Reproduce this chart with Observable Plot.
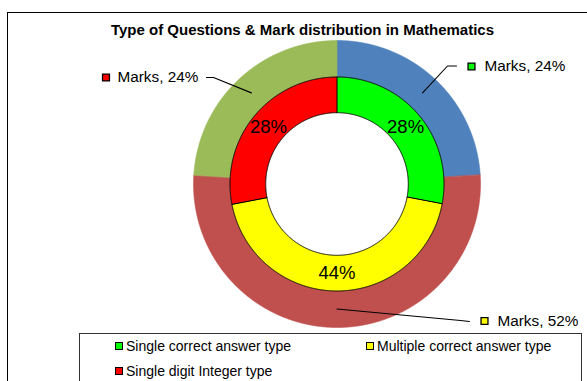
<!DOCTYPE html>
<html>
<head>
<meta charset="utf-8">
<script src="https://cdn.jsdelivr.net/npm/d3@7"></script>
<script src="https://cdn.jsdelivr.net/npm/@observablehq/plot@0.6"></script>
<style>
  html, body { margin: 0; padding: 0; background: #fff; }
  body { font-family: "Liberation Sans", Arial, sans-serif; }
  #wrap { position: relative; width: 587px; height: 381px; overflow: hidden; }
  #frame { position: absolute; left: 7px; top: 12px; width: 600px; height: 420px; border: 1px solid #000; box-sizing: border-box; }
  #title { position: absolute; left: 7px; width: 591px; top: 21px; text-align: center; font-weight: bold; font-size: 15px; line-height: 17px; color: #000; white-space: nowrap; }
  #chart { position: absolute; left: 0; top: 0; }
  #legend { position: absolute; left: 79px; top: 333px; width: 503px; height: 70px; border: 1px solid #333; box-sizing: border-box; background: #fff; }
  .item { position: absolute; display: flex; align-items: center; font-size: 14px; line-height: 16px; white-space: nowrap; color: #000; }
  .key { width: 6px; height: 6px; border: 1px solid #000; margin-right: 3px; }
</style>
</head>
<body>
<div id="wrap">
  <div id="frame"></div>
  <div id="title"></div>
  <div id="chart"></div>
  <div id="legend"></div>
</div>
<script>
// ---- data ----
const titleText = "Type of Questions & Mark distribution in Mathematics";
const innerCategories = ["Single correct answer type", "Multiple correct answer type", "Single digit Integer type"];
const innerValues = [28, 44, 28];
const innerColors = ["#00FF00", "#FFFF00", "#FF0000"];
const outerSeriesName = "Marks";
const outerValues = [24, 52, 24];
const outerColors = ["#4F81BD", "#C0504D", "#9BBB59"];

// ---- layout (pixel-based units, center of donut at origin) ----
const W = 587, H = 381;
const cx = 336.5, cy = 183.5;
const rHole = 71.3, rMid = 107, rOuter = 143.5;
const innerLabelR = 89, outerAnchorR = 125;
// callout offsets: elbow and line end relative to center; marker position; text side
const callouts = [
  {elbow: [110.5, 118], end: [119.5, 118], marker: [134.5, 117.5], text: [147.5, 117.5]},
  {elbow: [123.5, -136.5], end: [132.5, -137.5], marker: [147.5, -137], text: [160.5, -137]},
  {elbow: [-123.5, 106.5], end: [-130.5, 106.5], marker: [-231, 106.5], text: [-219.5, 106.5]}
];
const legendPos = [[35, 4], [286, 4], [35, 29]];

document.getElementById("title").textContent = titleText;

function ring(values, r0, r1) {
  const total = d3.sum(values);
  let acc = 0;
  return values.map((v, i) => {
    const a0 = acc / total * 2 * Math.PI, a1 = (acc + v) / total * 2 * Math.PI;
    acc += v;
    const n = Math.max(2, Math.ceil((a1 - a0) / (Math.PI / 720)));
    const pts = [];
    for (let k = 0; k <= n; k++) { const a = a0 + (a1 - a0) * k / n; pts.push({x: r1 * Math.sin(a), y: r1 * Math.cos(a)}); }
    for (let k = n; k >= 0; k--) { const a = a0 + (a1 - a0) * k / n; pts.push({x: r0 * Math.sin(a), y: r0 * Math.cos(a)}); }
    return {i, value: v, mid: (a0 + a1) / 2, pts};
  });
}

const outer = ring(outerValues, rMid, rOuter);
const inner = ring(innerValues, rHole, rMid);

const marks = [];
outer.forEach(s => marks.push(Plot.line(s.pts, {x: "x", y: "y", curve: "linear-closed", fill: outerColors[s.i], stroke: outerColors[s.i], strokeWidth: 0.6})));
inner.forEach(s => marks.push(Plot.line(s.pts, {x: "x", y: "y", curve: "linear-closed", fill: innerColors[s.i], stroke: "#000", strokeWidth: 1})));

const innerLabels = inner.map(s => ({x: innerLabelR * Math.sin(s.mid), y: innerLabelR * Math.cos(s.mid), t: s.value + "%"}));
marks.push(Plot.text(innerLabels, {x: "x", y: "y", text: "t", fontSize: 18.5, fill: "#000", fontFamily: "Liberation Sans, Arial, sans-serif"}));

// callouts for the outer ring
const leaderPts = [];
const markerPts = [];
const calloutText = [];
outer.forEach((s, i) => {
  const c = callouts[i];
  const ax = outerAnchorR * Math.sin(s.mid), ay = outerAnchorR * Math.cos(s.mid);
  leaderPts.push({id: i, x: ax, y: ay}, {id: i, x: c.elbow[0], y: c.elbow[1]}, {id: i, x: c.end[0], y: c.end[1]});
  markerPts.push({x: c.marker[0], y: c.marker[1], color: innerColors[i]});
  calloutText.push({x: c.text[0], y: c.text[1], t: `${outerSeriesName}, ${s.value}%`});
});
marks.push(Plot.line(leaderPts, {x: "x", y: "y", z: "id", stroke: "#000", strokeWidth: 1.1}));
marks.push(Plot.dot(markerPts, {x: "x", y: "y", symbol: "square", r: 3.9, fill: d => d.color, stroke: "#000", strokeWidth: 1.3}));
marks.push(Plot.text(calloutText, {x: "x", y: "y", text: "t", textAnchor: "start", fontSize: 15.3, fill: "#000", fontFamily: "Liberation Sans, Arial, sans-serif"}));

const plot = Plot.plot({
  width: W, height: H,
  margin: 0,
  style: {background: "transparent", overflow: "visible"},
  x: {domain: [-cx, W - cx], range: [0, W], axis: null},
  y: {domain: [-(H - cy), cy], range: [H, 0], axis: null},
  color: {type: "identity"},
  marks
});
document.getElementById("chart").appendChild(plot);

// legend
const leg = document.getElementById("legend");
innerCategories.forEach((name, i) => {
  const it = document.createElement("div");
  it.className = "item";
  it.style.left = legendPos[i][0] + "px";
  it.style.top = legendPos[i][1] + "px";
  const k = document.createElement("span");
  k.className = "key";
  k.style.background = innerColors[i];
  const t = document.createElement("span");
  t.textContent = name;
  it.appendChild(k); it.appendChild(t);
  leg.appendChild(it);
});
</script>
</body>
</html>
